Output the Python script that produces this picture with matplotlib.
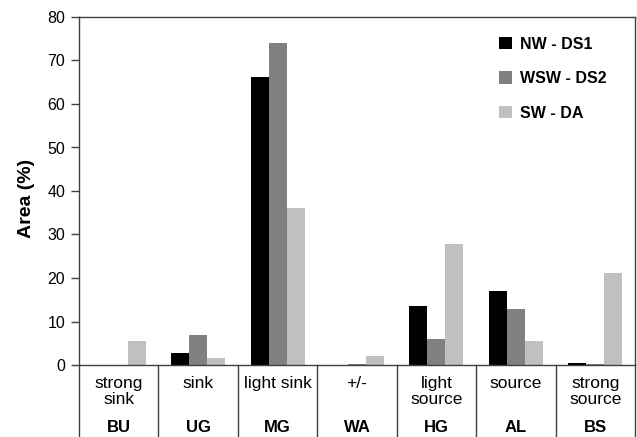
import numpy as np
import matplotlib.pyplot as plt

plt.rcParams['font.family'] = ['Liberation Sans', 'DejaVu Sans']

# categories
descriptions = ['strong\nsink', 'sink', 'light sink', '+/-', 'light\nsource', 'source', 'strong\nsource']
codes = ['BU', 'UG', 'MG', 'WA', 'HG', 'AL', 'BS']

# series values (area %)
nw_ds1 = [0.0, 2.8, 66.2, 0.0, 13.5, 16.9, 0.4]
wsw_ds2 = [0.0, 6.9, 74.0, 0.2, 6.0, 12.8, 0.3]
sw_da = [5.6, 1.5, 36.1, 2.1, 27.8, 5.6, 21.2]

series = [('NW - DS1', nw_ds1, '#000000'),
          ('WSW - DS2', wsw_ds2, '#808080'),
          ('SW - DA', sw_da, '#c0c0c0')]

fig = plt.figure(figsize=(6.37, 4.37), dpi=100)
ax = fig.add_axes([79 / 637, 72 / 437, 556 / 637, 348 / 437])

x = np.arange(len(codes))
w = 0.227
for i, (name, vals, col) in enumerate(series):
    ax.bar(x + (i - 1) * w, vals, width=w, color=col, label=name, edgecolor='none')

ax.set_xlim(-0.5, len(codes) - 0.5)
ax.set_ylim(0, 80)
ax.set_yticks(range(0, 81, 10))
ax.tick_params(axis='y', direction='out', length=6, width=1, labelsize=11.5, pad=4, color='#404040')
ax.set_xticks([])
for s in ax.spines.values():
    s.set_color('#404040')
    s.set_linewidth(1)

ax.set_ylabel('Area (%)', fontsize=14, fontweight='bold')
ax.yaxis.set_label_coords(-0.079, 0.48)

# table below the axis
trans = ax.get_xaxis_transform()
y_bottom = -72 / 348
for k in range(len(codes) + 1):
    ax.plot([k - 0.5, k - 0.5], [0, y_bottom], transform=trans, color='#404040',
            lw=1, clip_on=False)
for k in range(len(codes)):
    ax.text(k, -11 / 348, descriptions[k], transform=trans, ha='center', va='top',
            fontsize=12.5, linespacing=1.1)
    ax.text(k, -63 / 348, codes[k], transform=trans, ha='center', va='center',
            fontsize=12, fontweight='bold')

ax.legend(loc='upper right', bbox_to_anchor=(0.975, 0.985), frameon=False,
          prop={'weight': 'bold', 'size': 11.5}, labelspacing=1.22,
          handlelength=0.85, handleheight=0.85, handletextpad=0.5)

fig.savefig('out.png', dpi=100)
